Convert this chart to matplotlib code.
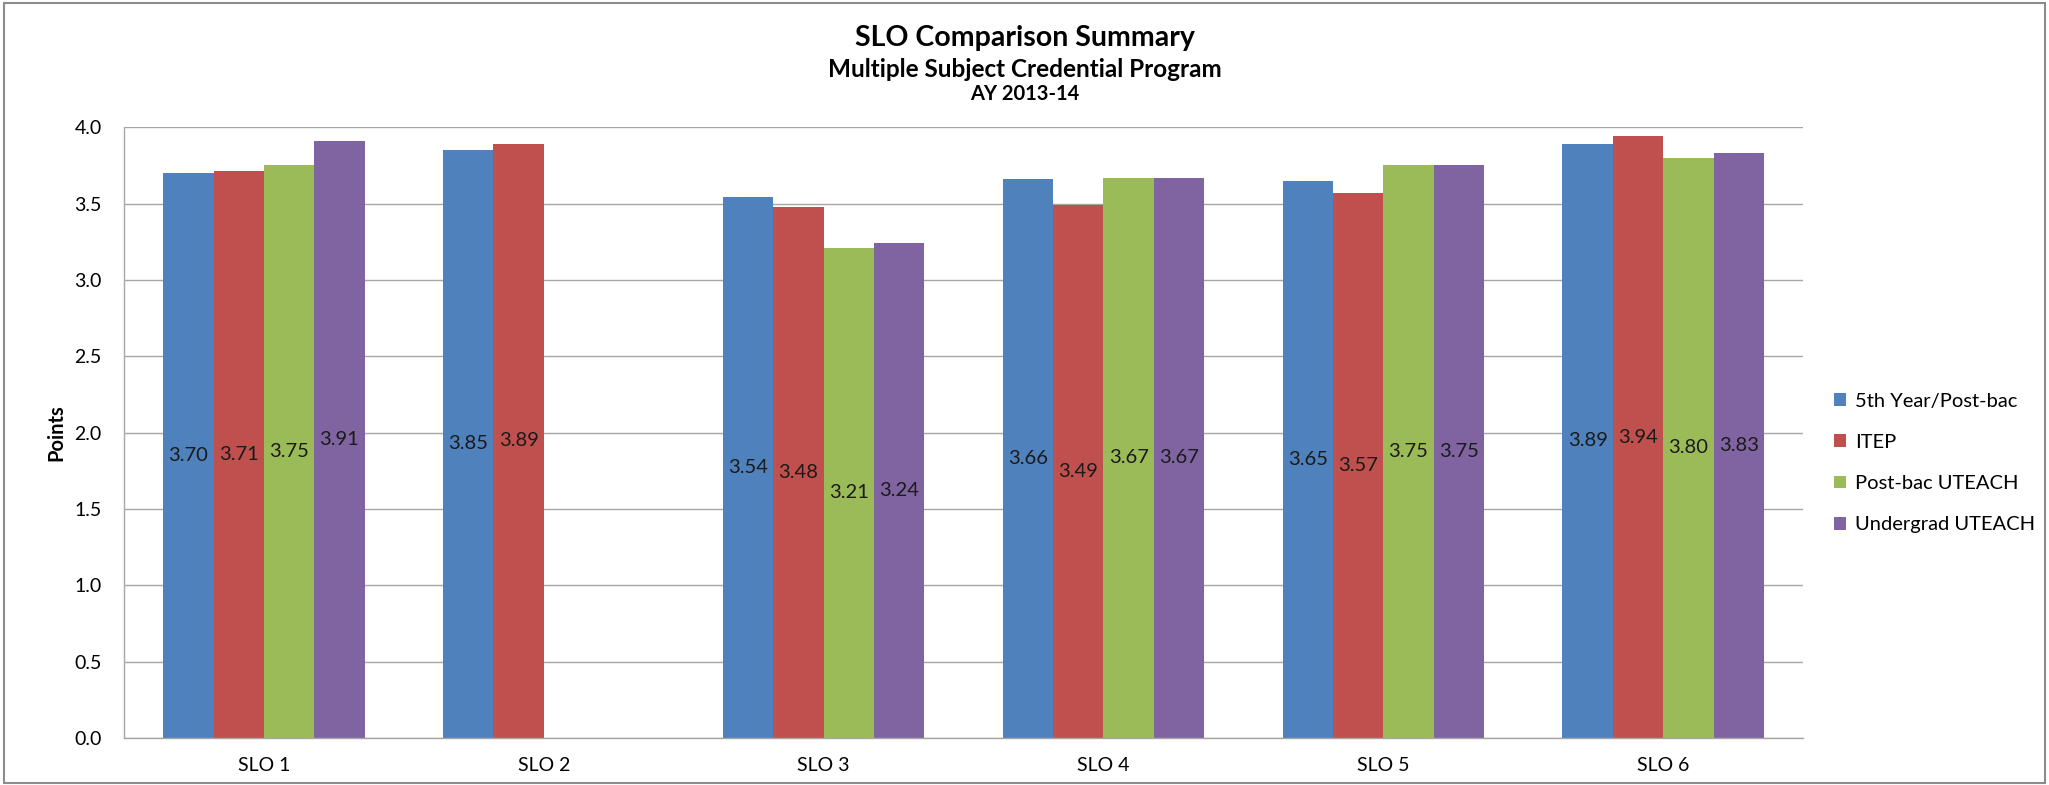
import numpy as np
import matplotlib
matplotlib.use("Agg")
import matplotlib.pyplot as plt
from matplotlib.patches import Rectangle

plt.rcParams['font.family'] = ['Lato', 'DejaVu Sans']

# data
categories = ["SLO 1", "SLO 2", "SLO 3", "SLO 4", "SLO 5", "SLO 6"]
series_names = ["5th Year/Post-bac", "ITEP", "Post-bac UTEACH", "Undergrad UTEACH"]
fifth_year = [3.70, 3.85, 3.54, 3.66, 3.65, 3.89]
itep = [3.71, 3.89, 3.48, 3.49, 3.57, 3.94]
postbac_uteach = [3.75, np.nan, 3.21, 3.67, 3.75, 3.80]
undergrad_uteach = [3.91, np.nan, 3.24, 3.67, 3.75, 3.83]
yticks = [0.0, 0.5, 1.0, 1.5, 2.0, 2.5, 3.0, 3.5, 4.0]

colors = ["#4F81BD", "#C0504D", "#9BBB59", "#8064A2"]
series = [fifth_year, itep, postbac_uteach, undergrad_uteach]

fig = plt.figure(figsize=(20.49, 7.85), dpi=100)
ax = fig.add_axes([0.0605, 0.06, 0.8195, 0.778])

x = np.arange(len(categories))
w = 0.18
for k, (vals, name, c) in enumerate(zip(series, series_names, colors)):
    vals = np.array(vals, dtype=float)
    pos = x + (k - 1.5) * w
    ax.bar(pos, np.nan_to_num(vals), width=w, color=c, label=name, zorder=2)
    for p, v in zip(pos, vals):
        if np.isnan(v):
            continue
        ax.text(p, v / 2, f"{v:.2f}", ha="center", va="center",
                fontsize=14.5, color="#1a1a1a", zorder=3)

ax.set_xlim(-0.5, len(categories) - 0.5)
ax.set_ylim(0, 4.0)
ax.set_yticks(yticks)
ax.set_yticklabels([f"{t:.1f}" for t in yticks], fontsize=14)
ax.set_xticks(x)
ax.set_xticklabels(categories, fontsize=14)
ax.tick_params(axis="x", length=0, pad=14)
ax.tick_params(axis="y", length=0, pad=16)
ax.grid(axis="y", color="#A6A6A6", linewidth=1.0, zorder=0)
for s in ["top", "right"]:
    ax.spines[s].set_visible(False)
for s in ["left", "bottom"]:
    ax.spines[s].set_color("#A6A6A6")
    ax.spines[s].set_linewidth(1.0)
ax.set_ylabel("Points", fontsize=14.5, fontweight="bold", labelpad=6)

leg = ax.legend(loc="center left", bbox_to_anchor=(1.01, 0.45), frameon=False,
                fontsize=14.5, handlelength=0.6, handleheight=0.6,
                handletextpad=0.45, labelspacing=1.2, borderaxespad=0.3)

# title block, placed by baseline
fig.text(0.5, 0.942, "SLO Comparison Summary", ha="center", va="baseline",
         fontsize=20.5, fontweight="bold")
fig.text(0.5, 0.902, "Multiple Subject Credential Program", ha="center",
         va="baseline", fontsize=17.5, fontweight="bold")
fig.text(0.5, 0.872, "AY 2013-14", ha="center", va="baseline",
         fontsize=14.5, fontweight="bold")

fig.patches.append(Rectangle((0.002, 0.002), 0.996, 0.994, transform=fig.transFigure,
                             fill=False, edgecolor="#8C8C8C", linewidth=1.5))

fig.savefig("out.png", dpi=100)
